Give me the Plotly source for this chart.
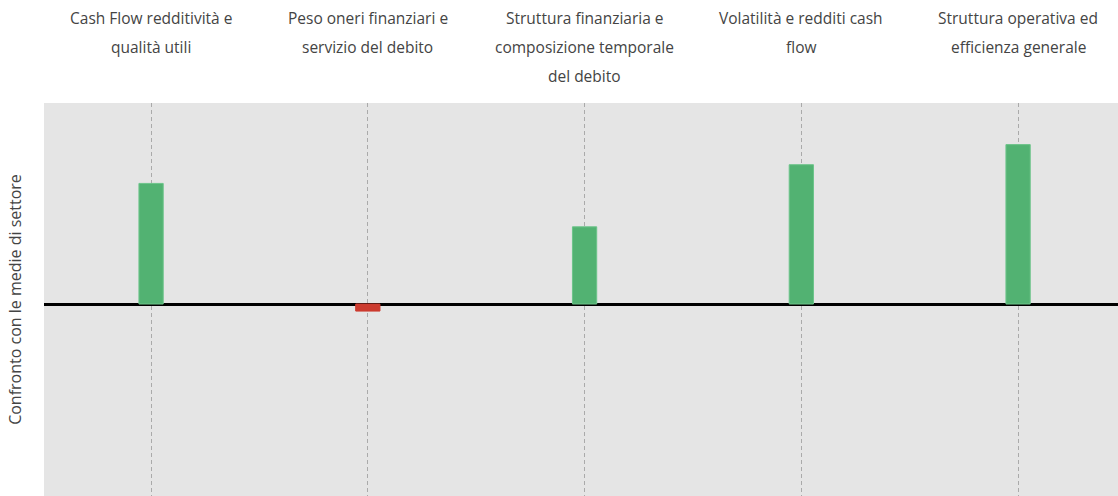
import plotly.graph_objects as go

categories = [
    "Cash Flow redditività e<br>qualità utili",
    "Peso oneri finanziari e<br>servizio del debito",
    "Struttura finanziaria e<br>composizione temporale<br>del debito",
    "Volatilità e redditi cash<br>flow",
    "Struttura operativa ed<br>efficienza generale",
]
values = [0.60, -0.035, 0.384, 0.693, 0.793]
y_title = "Confronto con le medie di settore"

colors = ["#52b272" if v >= 0 else "#cc3b2f" for v in values]
line_colors = ["#6cc48a" if v >= 0 else "#cc3b2f" for v in values]
xs = list(range(len(categories)))

fig = go.Figure()
fig.add_trace(go.Bar(
    x=xs, y=values, width=0.112,
    marker=dict(color=colors, line=dict(color=line_colors, width=1)),
    showlegend=False, hoverinfo="skip",
))

annotations = []
for i, lab in enumerate(categories):
    for j, line in enumerate(lab.split("<br>")):
        annotations.append(dict(
            x=i, xref="x", y=1, yref="paper", yanchor="middle",
            yshift=85 - 29 * j, text=line, showarrow=False,
            font=dict(family="Open Sans", size=15.5, color="#444"),
        ))

fig.update_layout(
    width=1118, height=496,
    margin=dict(l=44, r=0, t=103, b=0),
    paper_bgcolor="white", plot_bgcolor="#e5e5e5",
    font=dict(family="Open Sans", size=15.5, color="#444"),
    annotations=annotations,
    xaxis=dict(
        range=[-0.494, 4.461],
        tickmode="array", tickvals=xs, ticktext=[""] * len(xs),
        showgrid=True, gridcolor="#aaaaaa", griddash="4px,3px", gridwidth=1,
        zeroline=False, showline=False, side="top",
    ),
    yaxis=dict(
        range=[-0.955, 1.0],
        showgrid=False, showticklabels=False, ticks="",
        zeroline=True, zerolinecolor="black", zerolinewidth=3,
        title=dict(text=y_title, standoff=17,
                   font=dict(family="Open Sans", size=16, color="#444")),
    ),
)

fig.write_html(
    "out.html",
    config={"displayModeBar": False},
    post_script=(
        "document.documentElement.style.overflow='hidden';"
        "document.body.style.overflow='hidden';"
        "document.body.style.margin='0';"
    ),
)
